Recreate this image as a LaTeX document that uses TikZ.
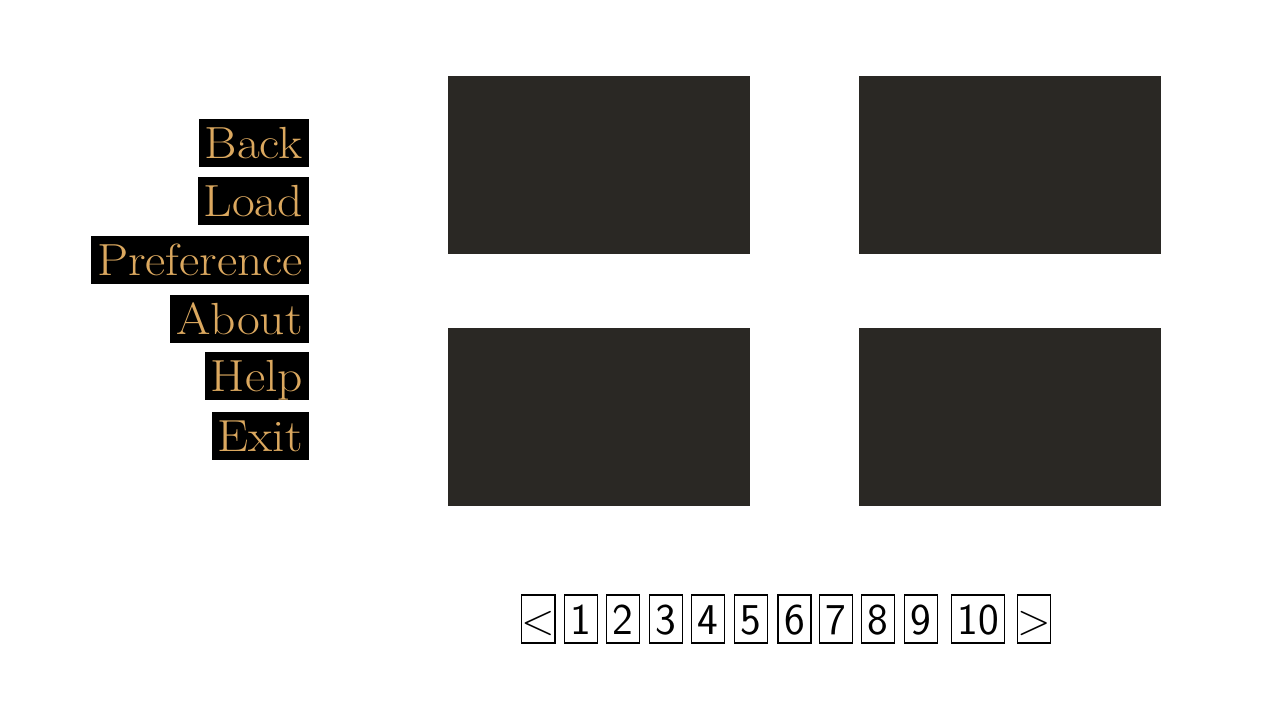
\documentclass[tikz,border=0pt]{standalone}
\usepackage{fontspec}
\setmainfont{Latin Modern Roman}
\setsansfont{Latin Modern Sans}
\newfontfamily\menufont[FakeStretch=1.1]{Latin Modern Roman}
\definecolor{slotgray}{HTML}{2A2824}
\definecolor{menugold}{HTML}{DBA85F}
\tikzset{
  menuitem/.style={anchor=east, fill=black, text=menugold, font=\menufont\fontsize{45}{50}\selectfont,
    inner xsep=6pt, inner ysep=0pt, minimum height=48pt, text height=31pt, text depth=0pt},
  slot/.style={fill=slotgray, draw=none, inner sep=0pt, minimum width=302pt, minimum height=178pt},
  pagebtn/.style={draw=black, line width=1.2pt, inner sep=0pt, minimum width=33pt, minimum height=48pt,
    font=\sffamily\fontsize{44}{50}\selectfont, text height=30pt, text depth=0pt},
}
\begin{document}
\begin{tikzpicture}[x=1pt,y=-1pt]
\useasboundingbox[fill=white] (0,0) rectangle (1280,720);
% menu
\node[menuitem] (back) at (309,143) {Back};
\node[menuitem] (load) at (309,201) {Load};
\node[menuitem] (pref) at (309,260) {Preference};
\node[menuitem] (about) at (309,319) {About};
\node[menuitem] (help) at (309,376) {Help};
\node[menuitem] (exit) at (309,436) {Exit};
% slots
\node[slot] (s1) at (599,165) {};
\node[slot] (s2) at (1010,165) {};
\node[slot] (s3) at (599,417) {};
\node[slot] (s4) at (1010,417) {};
% pages
\node[pagebtn] (prev) at (538.3,619) {<};
\node[pagebtn] (p1) at (580.7,619) {1};
\node[pagebtn] (p2) at (623.3,619) {2};
\node[pagebtn] (p3) at (666,619) {3};
\node[pagebtn] (p4) at (708.3,619) {4};
\node[pagebtn] (p5) at (751.2,619) {5};
\node[pagebtn] (p6) at (794.5,619) {6};
\node[pagebtn] (p7) at (836,619) {7};
\node[pagebtn] (p8) at (878.3,619) {8};
\node[pagebtn] (p9) at (921,619) {9};
\node[pagebtn, minimum width=53pt] (p10) at (978.3,619) {10};
\node[pagebtn] (next) at (1034,619) {>};
\end{tikzpicture}
\end{document}
